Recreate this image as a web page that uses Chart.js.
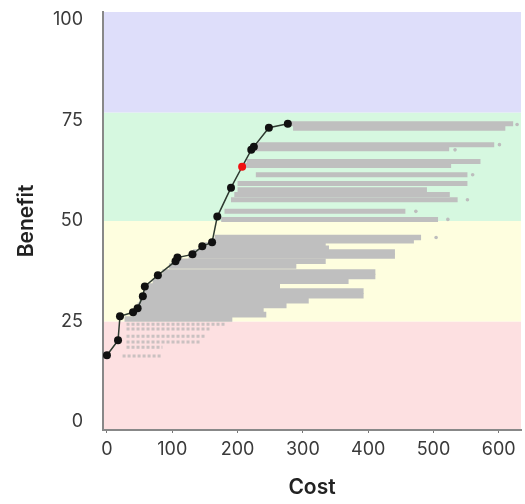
<!DOCTYPE html>
<html>
<head>
<meta charset="utf-8">
<script src="https://cdn.jsdelivr.net/npm/chart.js@4"></script>
<style>
  body { margin: 0; background: #fff; }
  #wrap { width: 525px; height: 504px; }
</style>
</head>
<body>
<div id="wrap"><canvas id="chart"></canvas></div>
<script>
// efficient frontier (black points), one highlighted in red
const frontCost    = [0, 17, 20, 40, 47, 55, 58, 78, 105, 108, 131, 146, 161, 169, 190, 207, 221, 225, 248, 277];
const frontBenefit = [16.6, 20.3, 26.3, 27.3, 28.3, 31.3, 33.7, 36.5, 40.0, 40.9, 41.7, 43.7, 44.7, 51.1, 58.3, 63.5, 67.7, 68.5, 73.2, 74.2];
const redIndex = 15;

// grey streaks of dominated portfolios: benefit level, cost from, cost to
const streakBenefit = [74.2, 73.1, 69.0, 68.0, 64.8, 63.8, 61.5, 59.3, 57.8, 56.6, 55.3, 52.4, 50.4,
                       45.9, 45.1, 44.0, 43.2, 42.3, 41.3, 40.0, 38.8, 37.3, 36.2, 35.0, 33.8, 32.6,
                       31.4, 30.2, 29.0, 27.8, 26.7, 25.6];
const streakFrom    = [282, 285, 230, 226, 214, 210, 228, 200, 200, 195, 190, 180, 175,
                       165, 163, 150, 148, 132, 125, 108, 95, 85, 80, 70, 60, 57,
                       55, 50, 47, 45, 40, 27];
const streakTo      = [622, 610, 593, 524, 572, 527, 552, 552, 490, 525, 537, 457, 507,
                       481, 470, 335, 340, 441, 441, 335, 290, 411, 411, 370, 265, 393,
                       393, 309, 275, 240, 244, 192];

// sparse rows in the low band
const faintBenefit = [24.3, 23.1, 21.3, 19.9, 18.6, 16.4];
const faintFrom    = [30, 30, 30, 30, 30, 24];
const faintTo      = [183, 157, 152, 142, 85, 85];

// lone points at the ends of rows
const dotCost    = [601, 533, 560, 552, 473, 522, 504, 628];
const dotBenefit = [69.0, 67.7, 61.5, 55.3, 52.4, 50.4, 45.9, 74.0];

const bandLimits = [-2, 25, 50, 77, 102];
const bandColors = ['#fde0e1', '#fefedf', '#d6f8e0', '#dedefa'];

const xTicks = [0, 100, 200, 300, 400, 500, 600];
const yTicks = [0, 25, 50, 75, 100];

const bands = {
  id: 'bands',
  beforeDraw(chart) {
    const { ctx, chartArea: a, scales: { y } } = chart;
    ctx.save();
    for (let i = 0; i < bandColors.length; i++) {
      const top = y.getPixelForValue(bandLimits[i + 1]);
      const bot = y.getPixelForValue(bandLimits[i]);
      ctx.fillStyle = bandColors[i];
      ctx.fillRect(a.left, top, a.right - a.left, bot - top);
    }
    ctx.restore();
  }
};

const datasets = [];

datasets.push({
  data: frontCost.map((c, i) => ({ x: c, y: frontBenefit[i] })),
  showLine: true,
  borderColor: '#2e3a30',
  borderWidth: 1.5,
  pointRadius: 4,
  pointBackgroundColor: frontCost.map((c, i) => i === redIndex ? '#f01010' : '#111'),
  pointBorderWidth: 0
});

datasets.push({
  data: dotCost.map((c, i) => ({ x: c, y: dotBenefit[i] })),
  pointRadius: 1.8,
  pointBackgroundColor: '#bdbdbd',
  pointBorderWidth: 0
});

streakBenefit.forEach((b, i) => {
  datasets.push({
    data: [{ x: streakFrom[i], y: b }, { x: streakTo[i], y: b }],
    showLine: true,
    borderColor: '#bfbfbf',
    borderWidth: b < 46 ? 5.6 : 5,
    borderCapStyle: 'butt',
    pointRadius: 0
  });
});

faintBenefit.forEach((b, i) => {
  datasets.push({
    data: [{ x: faintFrom[i], y: b }, { x: faintTo[i], y: b }],
    showLine: true,
    borderColor: 'rgba(180,180,180,0.7)',
    borderWidth: 3,
    borderDash: [3, 2],
    borderCapStyle: 'butt',
    pointRadius: 0
  });
});

new Chart(document.getElementById('chart'), {
  type: 'scatter',
  data: { datasets: datasets },
  plugins: [bands],
  options: {
    responsive: true,
    maintainAspectRatio: false,
    animation: false,
    layout: { padding: { top: 12, right: 3, left: 0, bottom: 0 } },
    plugins: { legend: { display: false }, tooltip: { enabled: false } },
    scales: {
      x: {
        type: 'linear',
        min: -6,
        max: 634,
        afterBuildTicks: s => { s.ticks = xTicks.map(v => ({ value: v })); },
        afterFit: s => { s.height = 74; s.paddingLeft = 0; s.paddingRight = 0; },
        grid: { drawOnChartArea: false, tickLength: 3, color: '#777' },
        border: { color: '#888', width: 2 },
        ticks: { color: '#3a3a3a', padding: 6, font: { family: 'Inter', size: 18 } },
        title: { display: true, text: 'Cost', color: '#222', padding: { top: 16 },
                 font: { family: 'Inter', size: 21, weight: 600 } }
      },
      y: {
        type: 'linear',
        min: -2,
        max: 102,
        afterBuildTicks: s => { s.ticks = yTicks.map(v => ({ value: v })); },
        afterFit: s => { s.width = 103; s.paddingTop = 0; s.paddingBottom = 0; },
        grid: { drawOnChartArea: false, drawTicks: false },
        border: { color: '#888', width: 2 },
        ticks: { color: '#3a3a3a', padding: 20, font: { family: 'Inter', size: 18 } },
        title: { display: true, text: 'Benefit', color: '#222', padding: { top: 14, bottom: 0 },
                 font: { family: 'Inter', size: 21, weight: 600 } }
      }
    }
  }
});
</script>
</body>
</html>
